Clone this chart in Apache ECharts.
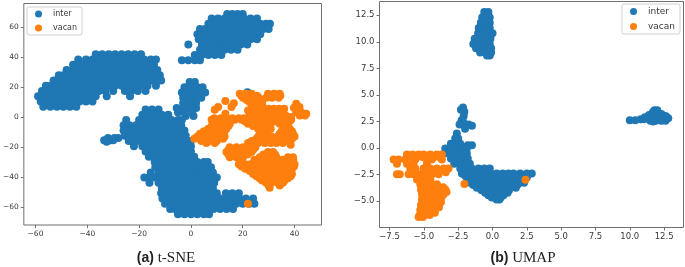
<!DOCTYPE html>
<html><head><meta charset="utf-8">
<script src="https://cdn.jsdelivr.net/npm/echarts@6/dist/echarts.min.js"></script>
<style>html,body{margin:0;padding:0;background:#fff}#c{width:685px;height:267px;filter:blur(0.45px)}</style>
</head><body><div id="c"></div>
<script>
// Each row: [y, [x, x, ...]]
const seriesNames = ['inter', 'vacan'];
const tsneXTicks = [-60, -40, -20, 0, 20, 40];
const tsneYTicks = [-60, -40, -20, 0, 20, 40, 60];
const umapXTicks = [-7.5, -5, -2.5, 0, 2.5, 5, 7.5, 10, 12.5];
const umapYTicks = [-5, -2.5, 0, 2.5, 5, 7.5, 10, 12.5];
const captions = [['(a)', ' t-SNE'], ['(b)', ' UMAP']];

const tsneInterRows = [
 // upper right cluster
 [69,[14,16,18,20]],
 [66,[8,10.5,13,15.5,18,20.5,23,25.5]],
 [62.5,[6.75,9.25,11.75,14.25,16.75,19.25,21.75,24.25,26.75,29,30.5]],
 [59,[3.5,5.5,8,10.5,13,15.5,18,20.5,23,25.5,28,30]],
 [55.5,[2.5,4.25,6.75,9.25,11.75,14.25,16.75,19.25,21.75,24.25,26.75]],
 [52,[3,5.5,8,10.5,13,15.5,18,20.5,23,25.5]],
 [48.5,[-1,4.25,6.75,9.25,11.75,14.25,16.75,19.25,21.75]],
 [45,[3.5,5.5,8,10.5,13,15.5,18]],
 [41.5,[1.5,4.25,6.75,9.25,11.75]],
 [38,[-3.5,-1,1.5,3.5]],
 [16.7,[21.8]],
 // long band on the left
 [42,[-36.75,-34.25,-31.75,-29.25,-26.75,-24.25,-21.75,-19.25]],
 [38.5,[-43.5,-40.5,-38,-35.5,-33,-30.5,-28,-25.5,-23,-20.5,-18,-15.5,-13.5]],
 [35,[-45.5,-44.25,-41.75,-39.25,-36.75,-34.25,-31.75,-29.25,-26.75,-24.25,-21.75,-19.25,-16.75,-14.25]],
 [31.5,[-48,-45.5,-43,-40.5,-38,-35.5,-33,-30.5,-28,-25.5,-23,-20.5,-18,-15.5,-13]],
 [28,[-51,-49.25,-46.75,-44.25,-41.75,-39.25,-36.75,-34.25,-31.75,-29.25,-26.75,-24.25,-21.75,-19.25,-16.75,-14.25,-12]],
 [24.5,[-53,-50.5,-48,-45.5,-43,-40.5,-38,-35.5,-33,-30.5,-28,-25.5,-23,-20.5,-18,-15.5,-13,-11.5]],
 [21,[-56,-54.25,-51.75,-49.25,-46.75,-44.25,-41.75,-39.25,-36.75,-34.25,-31.75,-29.25,-26.75,-24.25,-21.75,-19.25,-16.75,-13.5]],
 [17.5,[-57.5,-55.5,-53,-50.5,-48,-45.5,-43,-40.5,-38,-35.5,-33,-30,-25.5,-23,-20.5,-17.5]],
 [14,[-59,-56.75,-54.25,-51.75,-49.25,-46.75,-44.25,-41.75,-39.25,-36.75,-32.5,-23.5]],
 [10.5,[-58,-55.5,-53,-50.5,-48,-45.5,-43,-40.5,-38]],
 [7,[-57,-54.25,-51.75,-49.25,-46.75,-44.25]],
 // small middle cluster
 [23.5,[-0.5,1.5]],[20,[-2.5,0,2.5,4.5]],[16.5,[-3.5,-1,1.5,4,5.5]],[13,[-3,-0.5,2,4]],
 [9.5,[-3,-0.5,2]],[6,[-5.5,-3,-0.5,2]],[3,[-5,-2.5,0.5]],[0.8,[-2,1]],
 // central mass
 [5,[-17.5,-15,-12.5]],
 [1.5,[-18.75,-16.25,-13.75,-11.25,-8.75]],
 [-2,[-25,-20,-17.5,-15,-12.5,-10,-7.5,-5,-3.5]],
 [-5.5,[-26,-23.75,-21.25,-18.75,-16.25,-13.75,-11.25,-8.75,-6.25,-3.75]],
 [-9,[-26,-25,-22.5,-20,-17.5,-15,-12.5,-10,-7.5,-5,-2.5]],
 [-12.5,[-25.5,-23.75,-21.25,-18.75,-16.25,-13.75,-11.25,-8.75,-6.25,-3.75,-2]],
 [-16,[-24,-22.5,-20,-17.5,-15,-12.5,-10,-7.5,-5,-2.5,0]],
 [-19.5,[-22,-18.75,-16.25,-13.75,-11.25,-8.75,-6.25,-3.75,-1.25,0]],
 [-23,[-17.5,-15,-12.5,-10,-7.5,-5,-2.5,0]],
 [-26.5,[-16.25,-13.75,-11.25,-8.75,-6.25,-3.75,-1.25,1.25]],
 [-30,[-14,-12.5,-10,-7.5,-5,-2.5,0,2.5,5,6.5]],
 [-33.5,[-13.75,-11.25,-8.75,-6.25,-3.75,-1.25,1.25,3.75,6.25,7.75]],
 [-37,[-15.5,-12.5,-10,-7.5,-5,-2.5,0,2.5,5,7.5,8.5]],
 [-40.5,[-18,-16.25,-13.75,-11.25,-8.75,-6.25,-3.75,-1.25,1.25,3.75,6.25,8.75,10]],
 [-44,[-16,-12.5,-10,-7.5,-5,-2.5,0,2.5,5,7.5,9]],
 [-47.5,[-11.25,-8.75,-6.25,-3.75,-1.25,1.25,3.75,6.25,8.5]],
 [-51,[-11.5,-10,-7.5,-5,-2.5,0,2.5,5,7.5,10,13.5,16,18.5]],
 [-54.5,[-11,-8.75,-6.25,-3.75,-1.25,1.25,3.75,6.25,8.75,11.25,13.75,16.25,18.75,21.25,24]],
 [-58,[-10,-7.5,-5,-2.5,0,2.5,5,7.5,10,12.5,15,17.5,20,22.5,24.5]],
 [-61.5,[-8,-6.25,-3.75,-1.25,1.25,3.75,6.25,8.75,11.25,13.75,16.25]],
 [-65,[-5,-2.5,0,2.5,5,7]],
 // small island
 [-14,[-32,-29.5,-28]],[-15.5,[-33.5,-31,-30]],[-16.5,[-32.5]]
];

const tsneVacanRows = [
 [15.6,[18.85,21.15,23.35,29.75,32.05,34.25]],
 [14.3,[19.5,21.5,23.5,25.5,30.5,32.5,34.5]],
 [12.9,[20.1,22.3,24.6,26.2,29.1,31.3,33.85]],
 [11.5,[21.5,23.7,25.5,27.5]],
 [10.7,[13.3]],[10,[22.7,24.9,26.55]],[9.3,[16.55]],[8.9,[40.65]],
 [8.5,[23.5,25.5,27.5]],
 [7.1,[24.9,26.9]],[6.7,[10.5,15.65,41.9]],[6.2,[39.75]],[4.9,[9.2]],
 [5.5,[25.7,28,30,32,34,36]],
 [4.4,[22.05,28.5,30.8,33,35,41.9]],[3.3,[42.55,40.65]],
 [3,[23,26,29.5,32,34.5]],
 [2.2,[13.3,22.7,25.3,28.5,30.8,33,44.5,41.9]],
 [1,[23.5,26,28,30.5,33,36.5,42,44]],
 [0,[24.6,26.9,29.75,32.3,36.15,38.7]],
 [-0.8,[9,11.5,13.8,16,18.5,20.5,23,25.5,28,31,34,37.5]],
 [-1.8,[8,10.3,12.6,14.9,16.9,19.5,21.8,24,26.55,29.75,32.3,36.15,38.7]],
 [-3,[9.5,11.5,14,21,23.5,25.5,29.5,33,35.5,38]],
 [-4.5,[10.5,12.8,15,22.05,24.6,28.5,30.8,34.25,36.8]],
 [-6,[8,10.5,12.5,14.5,24,27,29.5,35.5,37.5]],
 [-7.8,[6.7,9.2,11.55,13.7,25.9,28.5,30.8,36.15,38.1]],
 [-9.5,[5,7,9,11,13,26.5,28.7,35,37.5,39]],
 [-11.2,[3.5,5.65,8,10.3,12.4,27.2,29.5,34.25,36.8,39.4]],
 [-13,[2.5,4.5,7,9,11,13,26,28.5,31,33.5,35.5,38,40]],
 [-14.5,[1.3,3.5,5.65,8,10.3,12.4,25.3,27.8,29.75,32.05,34.25,36.8,39]],
 [-16,[4,7,10,23.5,25.5,27.5,30,32.5,35,37.5]],
 [-17.4,[6,9.2,22.05,24,25.9,28.5,30.8,33,35.5]],
 [-18.5,[38.5]],
 [-20.1,[15,17.6,20.1,22.7,24.9]],
 [-21.8,[14.5,17,19.5,22,24]],
 [-23.4,[13.7,16.3,18.85,21.4,23.35,29.75,31.7]],
 [-25,[14.5,17,19.5,21.8,28,30,32.5]],
 [-26.8,[15,17.6,20.1,26.55,28.5,30.4,33,37.45,39.4]],
 [-28.5,[24.5,26.5,28.5,31,33.5,35.5,37.5,39.5]],
 [-30.1,[19.5,25.3,27.45,29.75,32.05,34.25,36.4,38.7]],
 [-31.5,[18.5,21,23,25.5,27.5,30,32,34,36,38,40]],
 [-33,[19.5,21.8,24,26.2,28.5,30.8,33,35.1,37.45,39.75]],
 [-34.5,[21,23.5,25.5,28,30,32.5,34.5,36.5,39]],
 [-36.1,[22.7,24.9,27.2,29.5,31.7,33.85,36.15,38.5]],
 [-38,[24,26.5,28.5,31,33,35.5,37.5,39]],
 [-39.5,[25.3,27.45,29.75,32.05,34.25,36.55,38.5]],
 [-41,[26.5,28.5,31,33,35.5,37.5]],
 [-42.4,[27.45,29.75,32.05,34.25,36.15]],
 [-44,[29,31,33.5,35.5]],
 [-45.7,[30,34.25]],[-47.3,[30.4]],
 [-58,[22]]
];

const umapInterRows = [
 // top cluster
 [12.8,[-0.6,-0.3]],[12.3,[-0.75,-0.4,-0.2]],[11.8,[-0.85,-0.5,-0.2]],[11.3,[-1.0,-0.6,-0.2]],
 [10.8,[-1.05,-0.65,-0.25,0]],[10.3,[-1.3,-0.9,-0.5,-0.15]],[9.8,[-1.4,-1,-0.6,-0.2]],
 [9.4,[-1.2,-0.8,-0.4,-0.1]],[9,[-0.9,-0.5,-0.1]],[8.7,[-0.4,-0.2]],
 // right cluster
 [3.55,[11.8,12]],[3.4,[11.7,12]],[3.2,[11.6,12,12.3]],[3.1,[11.4]],[3,[11.7,12.1,12.6]],
 [2.9,[11.1,11.5,11.9,12.3,12.7]],
 [2.8,[12.8]],[2.7,[10.8,11,11.4,11.8,12.2,12.6]],[2.6,[10,10.4]],[2.55,[11.5,11.9,12.3,12.6]],[2.5,[11.7]],
 // stalk
 [3.8,[-2.15]],[3.6,[-2.3]],[3.4,[-2.05]],[3,[-2.1]],[2.6,[-2.25]],[2.5,[-2.15]],
 [2.2,[-2.4,-2.1,-1.75]],[2.1,[-1.5]],[1.8,[-2]],
 // crescent
 [1.35,[-2.6]],[0.88,[-2.72,-2.5]],[0.4,[-3.03,-2.79,-2.35]],[0.25,[-1.5,-1.8]],
 [-0.06,[-3.44,-3.03,-2.59,-2.11,-1.87]],
 [-0.53,[-3.49,-3.08,-2.64,-2.23,-1.87]],
 [-1,[-3.03,-2.59,-2.11,-1.8]],
 [-1.48,[-2.79,-2.4,-1.92,-1.65]],
 [-1.95,[-2.35,-1.92,-1.5,-1.02,-0.6,-0.2]],
 [-2.42,[-2.23,-1.82,-1.38,-0.95,-0.53,-0.12,0.31,0.75,1.16,1.53,2.01,2.5,2.86]],
 [-2.6,[-2,-1.6,-1.2,-0.8,-0.4,0,0.4,0.8,1.2,1.6,2,2.4]],
 [-2.79,[-1.87,-1.45,-1.05,-0.65,-0.25,0.15,0.55,0.95,1.35,1.75,2.15,2.5]],
 [-3.05,[-1.7,-1.3,-0.9,-0.5,-0.1,0.3,0.7,1.1,1.5,1.9,2.3]],
 [-3.29,[-1.62,-1.14,-0.75,-0.35,0.05,0.45,0.85,1.25,1.65,2,2.3]],
 [-3.5,[-1.4,-1,-0.6,-0.2,0.2,0.6,1,1.4,1.8]],
 [-3.76,[-1.14,-0.75,-0.35,0.05,0.45,0.85,1.25,1.7]],
 [-4,[-0.8,-0.4,0,0.4,0.8,1.2]],
 [-4.23,[-0.53,-0.15,0.25,0.65,1.1]],
 [-4.45,[-0.3,0.1,0.5,0.8]],
 [-4.67,[-0.05,0.36,0.6]],
 [-4.85,[0.3,0.5]]
];

const umapVacanRows = [
 [-0.63,[-6.23,-5.82,-5.38,-5.02,-4.53,-4.05,-3.69]],
 [-0.85,[-6.2,-5.9,-5.5,-5.1,-4.75,-4.3,-3.9]],
 [-1.1,[-7.2,-6.84,-6.35,-5.62,-4.78,-4.41,-3.69]],
 [-1.48,[-6.96,-6.23,-5.75,-4.78]],
 [-1.95,[-5.99,-5.62,-5.02,-4.53,-4.05,-3.56,-3.2]],
 [-2.48,[-6.96,-6.75,-6.11,-5.75,-5.26,-4.9,-4.41,-3.93]],
 [-2.3,[-3.4]],
 [-2.98,[-5.5,-5.02,-4.53]],
 [-3.42,[-5.26,-4.82,-4.41,-4.05]],
 [-3.4,[-2.05]],[-3,[2.4]],
 [-3.7,[-3.9,-3.6]],
 [-3.92,[-5.21,-4.78,-4.34,-3.81,-3.44]],
 [-4.15,[-3.35]],
 [-4.36,[-5.14,-4.73,-4.29,-3.85,-3.56]],
 [-4.6,[-3.7]],
 [-4.86,[-5.14,-4.73,-4.29,-3.93]],
 [-5.1,[-3.75]],
 [-5.39,[-5.21,-4.78,-4.34,-4]],
 [-5.6,[-3.9,-4.1]],
 [-5.86,[-5.26,-4.82,-4.41]],
 [-6.1,[-4.2,-4.5,-4.9]],
 [-6.33,[-5.3,-4.97,-4.58]],
 [-6.5,[-5.38,-5.07]]
];

const points = rows => rows.flatMap(r => r[1].map(x => [x, r[0]]));
const BLUE = '#1f77b4', ORANGE = '#ff7f0e', INK = '#3a3a3a', FRAME = '#707070';
const minus = v => String(v).replace('-', '\u2212');

function axis(i, min, max, ticks, size, fixed) {
  return { type:'value', gridIndex:i, min, max, splitLine:{show:false}, axisLine:{show:false, onZero:false},
    axisTick:{show:true, length:3, customValues:ticks, lineStyle:{color:FRAME}},
    axisLabel:{customValues:ticks, fontFamily:'DejaVu Sans', fontSize:size, color:INK, margin:5,
      formatter:v => minus(fixed ? v.toFixed(fixed) : v)} };
}
function legend(left, top, size) {
  return { left, top, orient:'vertical', selectedMode:false, data:seriesNames,
    icon:'circle', itemWidth:7, itemHeight:7, itemGap:6, padding:[3,5,3,8],
    backgroundColor:'#fff', borderColor:'#d0d0d0', borderWidth:1, borderRadius:2,
    textStyle:{fontFamily:'DejaVu Sans', fontSize:size, color:INK, padding:[0,0,0,6]} };
}
function scatter(name, color, i, rows, z) {
  return { type:'scatter', name, xAxisIndex:i, yAxisIndex:i, data:points(rows), symbol:'circle',
    symbolSize:8, silent:true, z, itemStyle:{color, opacity:1} };
}
function caption(c, center) {
  return { left:center, top:246, textAlign:'center',
    text:`{b|${c[0]}}{s|${c[1]}}`,
    textStyle:{fontWeight:'normal', rich:{
      b:{fontFamily:'Liberation Sans', fontWeight:'bold', fontSize:14, color:'#222'},
      s:{fontFamily:'Liberation Serif', fontWeight:'normal', fontSize:15, color:'#222'} }} };
}
const frame = {show:true, borderColor:FRAME, borderWidth:1, backgroundColor:'#fff', containLabel:false};
const chart = echarts.init(document.getElementById('c'), null, {renderer:'canvas'});
chart.setOption({
  animation:false, backgroundColor:'#fff',
  title:[caption(captions[0],161), caption(captions[1],518)],
  legend:[legend(27,7,8), legend(622,4,9)],
  grid:[
    Object.assign({left:23.5, top:3.5, width:298, height:221.5}, frame),
    Object.assign({left:379.5, top:1.5, width:304, height:226}, frame)
  ],
  xAxis:[axis(0,-64.5,50.4,tsneXTicks,7.5,0), axis(1,-8.23,13.91,umapXTicks,8.5,1)],
  yAxis:[axis(0,-72.2,76,tsneYTicks,7.5,0), axis(1,-7.5,13.8,umapYTicks,8.5,1)],
  series:[
    scatter('inter',BLUE,0,tsneInterRows,2), scatter('vacan',ORANGE,0,tsneVacanRows,3),
    scatter('inter',BLUE,1,umapInterRows,2), scatter('vacan',ORANGE,1,umapVacanRows,3)
  ]
});
</script></body></html>
